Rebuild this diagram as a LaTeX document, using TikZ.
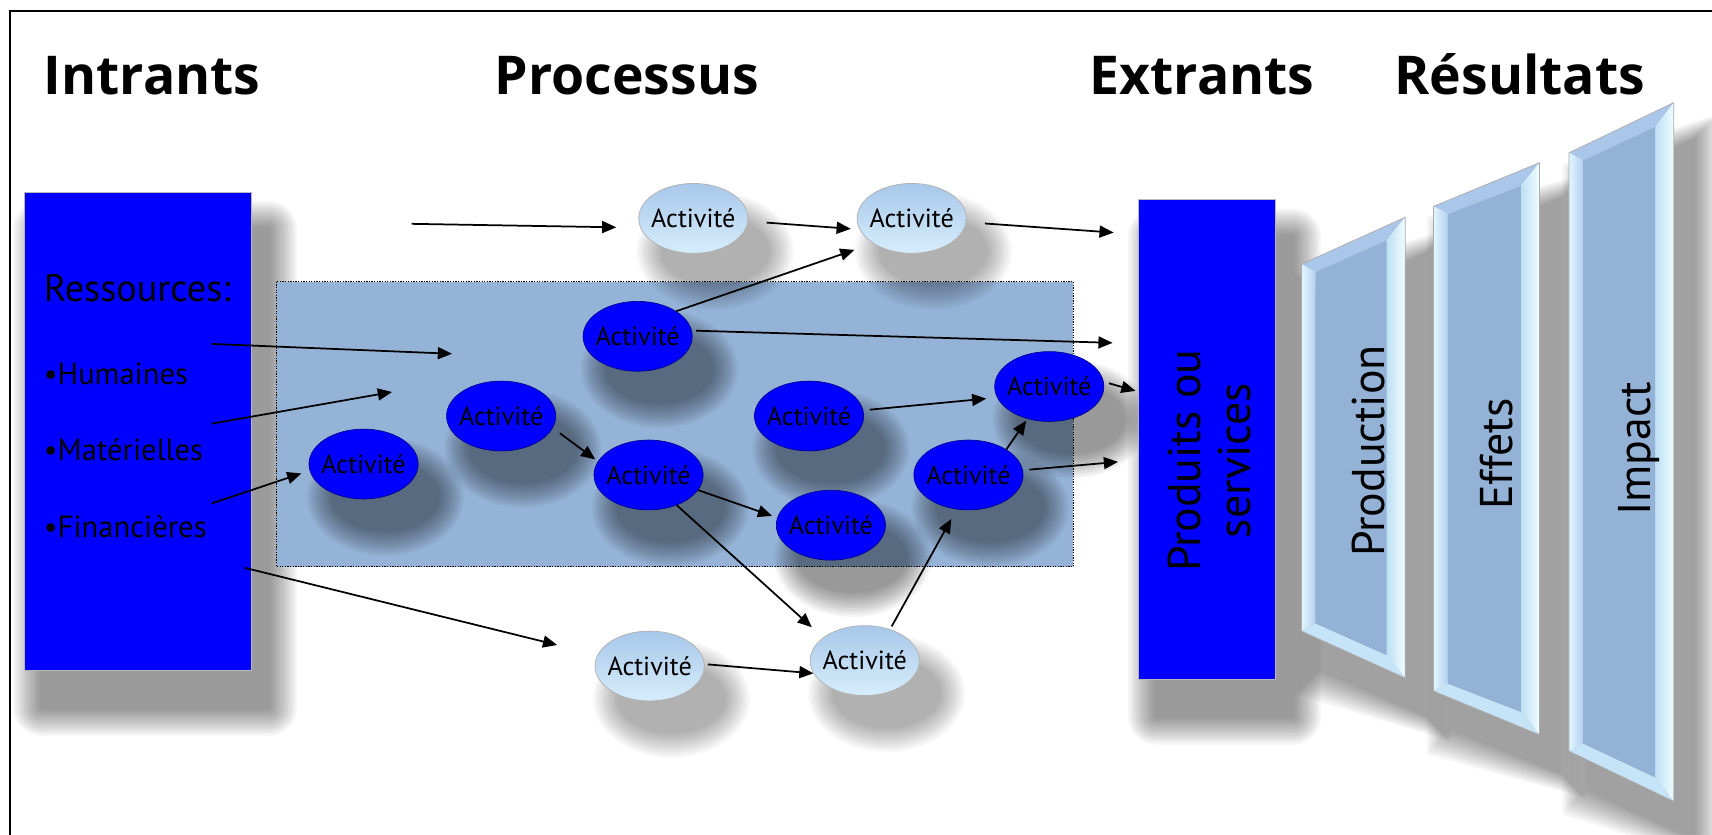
\documentclass[tikz,border=0pt]{standalone}
\usepackage{fontspec}
\setmainfont{PT Sans}
\newfontfamily\headfont{Open Sans}
\usetikzlibrary{shapes.geometric,arrows.meta}
\definecolor{pureblue}{RGB}{0,0,255}
\definecolor{procfill}{RGB}{149,179,215}
\definecolor{faceblue}{RGB}{148,178,214}
\definecolor{ltA}{RGB}{168,200,234}
\definecolor{ltB}{RGB}{156,204,246}
\definecolor{ltC}{RGB}{214,237,251}
\definecolor{bvTop}{RGB}{170,199,234}
\definecolor{bvLo}{RGB}{228,245,253}
\definecolor{bvLi}{RGB}{178,208,240}
\definecolor{bvRi}{RGB}{190,224,244}
\definecolor{bvRo}{RGB}{240,253,255}
\definecolor{bvBot}{RGB}{198,228,247}
\tikzset{
  head/.style={font=\headfont\bfseries\fontsize{49}{55}\selectfont, anchor=base west, inner sep=0pt},
  restitle/.style={font=\fontsize{35}{40}\selectfont, anchor=base west, inner sep=0pt},
  resitem/.style={font=\fontsize{28}{32}\selectfont, anchor=base west, inner sep=0pt},
  bluebox/.style={rectangle, fill=pureblue, draw=gray!55, line width=0.7pt, inner sep=0pt},
  actbase/.style={ellipse, minimum width=100pt, minimum height=64pt, inner xsep=-12pt, inner ysep=0pt,
    font=\fontsize{24}{28}\selectfont},
  darkact/.style={actbase, fill=pureblue, draw=blue!55!black, line width=0.6pt},
  lightact/.style={actbase, draw=gray!60, line width=0.7pt, top color=ltA, middle color=ltB, bottom color=ltC},
  conn/.style={line width=1.6pt, -{Triangle[length=13pt,width=11pt]}},
  rottext/.style={rotate=90, font=\fontsize{42}{46}\selectfont, inner sep=0pt},
}
% soft shadows built from stacked translucent layers
\newcommand{\ellshadow}[2]{%
  \foreach \ee in {22,20,...,0}{\fill[black, opacity=#2] ([shift={(20,30)}]#1) ellipse ({50+\ee} and {32+\ee});}}
\newcommand{\boxshadow}[5]{%
  \foreach \ee in {26,24,...,2}{\fill[black, opacity=#5, rounded corners=\ee pt]
    ({#1+16-\ee},{#2+34-\ee}) rectangle ({#3+16+\ee},{#4+34+\ee});}}
\newcommand{\trapshadow}[7]{%
  \foreach \ee in {24,22,...,2}{\fill[black, opacity=#7]
    ({#1+18-\ee},{#3+34-\ee}) -- ({#2+18+\ee},{#5+34-\ee}) -- ({#2+18+\ee},{#6+34+\ee}) -- ({#1+18-\ee},{#4+34+\ee}) -- cycle;}}
\newcommand{\drawtrap}[1]{%
  \fill[bvTop] (#1olt) -- (#1ort) -- (#1irt) -- (#1ilt) -- cycle;
  \shade[left color=bvLo, right color=bvLi] (#1olt) -- (#1ilt) -- (#1ilb) -- (#1olb) -- cycle;
  \shade[left color=bvRi, right color=bvRo] (#1ort) -- (#1irt) -- (#1irb) -- (#1orb) -- cycle;
  \fill[bvBot] (#1olb) -- (#1ilb) -- (#1irb) -- (#1orb) -- cycle;
  \fill[faceblue] (#1ilt) -- (#1irt) -- (#1irb) -- (#1ilb) -- cycle;
  \draw[gray!65, line width=0.7pt] (#1olt) -- (#1ort) -- (#1orb) -- (#1olb) -- cycle;
}
\begin{document}
\begin{tikzpicture}[x=1pt,y=-1pt]
\useasboundingbox (0,0) rectangle (1568,764);
\fill[white] (0,0) rectangle (1568,764);
% frame
\draw[line width=2pt] (9,770) -- (9,10) -- (1575,10);

% headings
\node[head] (hin) at (40,87) {Intrants};
\node[head] (hpr) at (453,87) {Processus};
\node[head] (hex) at (998,87) {Extrants};
\node[head] (hre) at (1277,87) {Résultats};

% inputs box
\boxshadow{22}{176}{230}{614}{0.034}
\node[bluebox, minimum width=208pt, minimum height=438pt] (inbox) at (126,395) {};
\node[restitle] (ress) at (40,276) {Ressources:};
\node[resitem] (hum) at (40,352) {•Humaines};
\node[resitem] (mat) at (40,422) {•Matérielles};
\node[resitem] (fin) at (40,492) {•Financières};

% process area
\path[draw=black, line width=1pt, dash pattern=on 1.2pt off 1.2pt, fill=procfill] (253,258) rectangle (983,519);

% activity centres
\coordinate (cb1) at (584,308);
\coordinate (cb2) at (459,381);
\coordinate (cb3) at (333,425);
\coordinate (cb4) at (594,435);
\coordinate (cb5) at (741,381);
\coordinate (cb6) at (961,354);
\coordinate (cb7) at (887,435);
\coordinate (cb8) at (761,481);
\coordinate (ca1) at (635,200);
\coordinate (ca2) at (835,200);
\coordinate (ca3) at (595,610);
\coordinate (ca4) at (792,605);
\foreach \c in {cb1,cb2,cb3,cb4,cb5,cb6,cb7,cb8}{\ellshadow{\c}{0.04}}
\foreach \c in {ca1,ca2,ca3,ca4}{\ellshadow{\c}{0.026}}

% activities
\node[darkact] (b1) at (cb1) {Activité};
\node[darkact] (b6) at (cb6) {Activité};
\node[darkact] (b2) at (cb2) {Activité};
\node[darkact] (b3) at (cb3) {Activité};
\node[darkact] (b5) at (cb5) {Activité};
\node[darkact] (b4) at (cb4) {Activité};
\node[darkact] (b7) at (cb7) {Activité};
\node[darkact] (b8) at (cb8) {Activité};
\node[lightact] (a1) at (ca1) {Activité};
\node[lightact] (a2) at (ca2) {Activité};
\node[lightact] (a3) at (ca3) {Activité};
\node[lightact] (a4) at (ca4) {Activité};

% free ends
\coordinate (s1) at (377,205);
\coordinate (e3) at (1020,213);
\coordinate (e5) at (1019,314);
\coordinate (s6) at (194,315);
\coordinate (e6) at (414,324);
\coordinate (s7) at (194,388);
\coordinate (e7) at (359,359);
\coordinate (s8) at (194,461);
\coordinate (s9) at (224,520);
\coordinate (e17) at (1040,358);
\coordinate (e18) at (1024,423);

% connectors
\draw[conn, shorten >=22pt] (s1) -- (a1.190);
\draw[conn, shorten <=17pt, shorten >=8pt] (a1.357) -- (a2.192);
\draw[conn, shorten <=17pt] (a2.356) -- (e3);
\draw[conn, shorten >=18pt] (b1.33) -- (a2.213);
\draw[conn, shorten <=4pt] (b1.6) -- (e5);
\draw[conn] (s6) -- (e6);
\draw[conn] (s7) -- (e7);
\draw[conn, shorten >=8pt] (s8) -- (b3.187);
\draw[conn, shorten >=38pt] (s9) -- (a3.168);
\draw[conn, shorten <=8pt, shorten >=3pt] (b2.347) -- (b4.165);
\draw[conn, shorten >=5pt] (b4.343) -- (b8.172);
\draw[conn, shorten >=14pt] (b4.313) -- (a4.151);
\draw[conn, shorten <=3pt] (a3.2) -- (a4.194);
\draw[conn, shorten <=3pt, shorten >=10pt] (a4.51) -- (b7.251);
\draw[conn, shorten <=6pt, shorten >=10pt] (b5.6) -- (b6.192);
\draw[conn, shorten >=2pt] (b7.34) -- (b6.236);
\draw[conn, shorten <=5pt] (b6.5) -- (e17);
\draw[conn, shorten <=6pt] (b7.5) -- (e18);

% shadows of the right-hand shapes
\boxshadow{1043}{183}{1168}{622}{0.034}
\trapshadow{1192}{1287}{242}{578}{199}{621}{0.034}
\trapshadow{1313}{1410}{189}{633}{149}{673}{0.034}
\trapshadow{1437}{1533}{140}{688}{94}{734}{0.034}

% outputs box
\node[bluebox, minimum width=125pt, minimum height=439pt] (outbox) at (1105.5,402.5) {};
\node[rottext, align=center] (outtxt) at (1108,422) {Produits ou\\services};

% result trapezoids
\coordinate (Polt) at (1192,242); \coordinate (Port) at (1287,199);
\coordinate (Porb) at (1287,621); \coordinate (Polb) at (1192,578);
\coordinate (Pilt) at (1205,249); \coordinate (Pirt) at (1270,220);
\coordinate (Pirb) at (1270,600); \coordinate (Pilb) at (1205,571);
\drawtrap{P}
\coordinate (Eolt) at (1313,189); \coordinate (Eort) at (1410,149);
\coordinate (Eorb) at (1410,673); \coordinate (Eolb) at (1313,633);
\coordinate (Eilt) at (1326,196); \coordinate (Eirt) at (1393,170);
\coordinate (Eirb) at (1393,652); \coordinate (Eilb) at (1326,626);
\drawtrap{E}
\coordinate (Iolt) at (1437,140); \coordinate (Iort) at (1533,94);
\coordinate (Iorb) at (1533,734); \coordinate (Iolb) at (1437,688);
\coordinate (Iilt) at (1450,147); \coordinate (Iirt) at (1516,116);
\coordinate (Iirb) at (1516,712); \coordinate (Iilb) at (1450,681);
\drawtrap{I}
\node[rottext, anchor=base] (tprod) at (1268,413) {Production};
\node[rottext, anchor=base] (teff) at (1385,416) {Effets};
\node[rottext, anchor=base] (timp) at (1512,411) {Impact};
\end{tikzpicture}
\end{document}
